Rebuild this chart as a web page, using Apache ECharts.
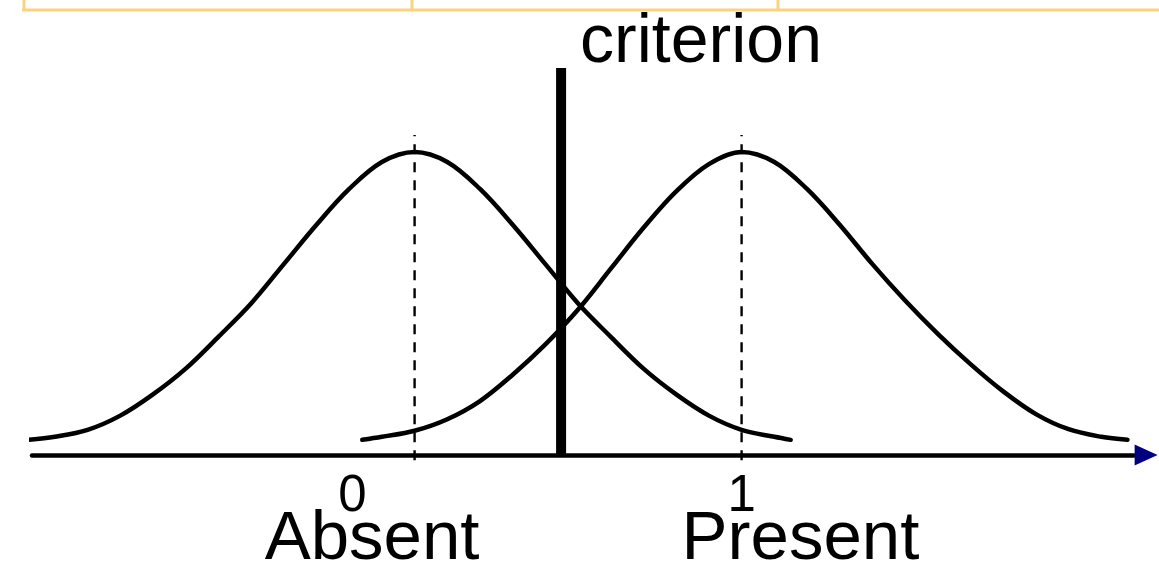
<!DOCTYPE html>
<html style="height: 100%">
<head>
    <meta charset="utf-8">
    <style>
        html, body {
            height: 100%;
            margin: 0;
            padding: 0;
            overflow: hidden;
            background: #fff;
        }
        #container {
            width: 1159px;
            height: 566px;
        }
    </style>
</head>
<body>
    <div id="container"></div>

    <script src="https://cdn.jsdelivr.net/npm/echarts@6/dist/echarts.min.js"></script>
    <script>
        // noise ("Absent") distribution
        var absentX = [-1.18, -1.1, -1.0, -0.9, -0.8, -0.7, -0.6, -0.5, -0.4, -0.3, -0.2, -0.1,
            0, 0.1, 0.2, 0.3, 0.4, 0.5, 0.6, 0.7, 0.8, 0.9, 1.0, 1.1, 1.15];
        var absentY = [0.05, 0.06, 0.083, 0.13, 0.2, 0.285, 0.39, 0.5, 0.63, 0.76, 0.878, 0.967,
            1.0, 0.967, 0.878, 0.76, 0.63, 0.5, 0.39, 0.285, 0.2, 0.13, 0.083, 0.06, 0.05];

        // signal ("Present") distribution
        var presentX = [-0.16, -0.1, 0, 0.1, 0.2, 0.3, 0.4, 0.5, 0.6, 0.7, 0.8, 0.9,
            1.0, 1.1, 1.2, 1.3, 1.4, 1.5, 1.6, 1.7, 1.8, 1.9, 2.0, 2.1, 2.18];
        var presentY = [0.05, 0.06, 0.08, 0.118, 0.178, 0.265, 0.365, 0.48, 0.615, 0.75, 0.87, 0.96,
            1.0, 0.967, 0.878, 0.76, 0.63, 0.51, 0.4, 0.3, 0.21, 0.135, 0.085, 0.06, 0.05];

        var means = [0, 1];
        var tickLabels = ['0', '1'];
        var stimulusLabels = ['Absent', 'Present'];
        var criterion = 0.448;
        var criterionText = 'criterion';

        function pairs(xs, ys) {
            return xs.map(function (x, i) { return [x, ys[i]]; });
        }

        var FONT = '"Liberation Sans", Arial, sans-serif';
        var dom = document.getElementById('container');
        var myChart = echarts.init(dom, null, { renderer: 'canvas' });

        var series = [];
        series.push({
            type: 'line', name: 'Absent', data: pairs(absentX, absentY),
            smooth: 0.35, showSymbol: false, silent: true, z: 3, clip: false,
            lineStyle: { color: '#000', width: 4.5, cap: 'round' }
        });
        series.push({
            type: 'line', name: 'Present', data: pairs(presentX, presentY),
            smooth: 0.35, showSymbol: false, silent: true, z: 3, clip: false,
            lineStyle: { color: '#000', width: 4.5, cap: 'round' }
        });
        means.forEach(function (m) {
            series.push({
                type: 'line', data: [[m, -0.017], [m, 1.056]],
                showSymbol: false, silent: true, z: 2,
                lineStyle: { color: '#000', width: 2.4, type: [10, 8] }
            });
        });
        series.push({
            type: 'line', data: [[criterion, 0], [criterion, 1.277]],
            showSymbol: false, silent: true, z: 5,
            lineStyle: { color: '#000', width: 10, cap: 'butt' }
        });
        // axis arrow head
        series.push({
            type: 'scatter', data: [[2.237, 0]], clip: false, silent: true, z: 6,
            symbol: 'triangle', symbolRotate: -90, symbolSize: [21, 23],
            itemStyle: { color: '#000080', opacity: 1 }
        });
        // text annotations
        var textData = [];
        tickLabels.forEach(function (t, i) {
            textData.push({ value: [[-0.19, 1.0][i], -0.138], name: t, label: { fontSize: 51 } });
        });
        stimulusLabels.forEach(function (t, i) {
            textData.push({ value: [[-0.13, 1.18][i], -0.28], name: t, label: { fontSize: 69 } });
        });
        textData.push({ value: [0.876, 1.358], name: criterionText, label: { fontSize: 68 } });
        series.push({
            type: 'scatter', data: textData, clip: false, silent: true,
            symbolSize: 0, itemStyle: { opacity: 1 },
            label: {
                show: true, position: 'inside', color: '#000', opacity: 1,
                fontFamily: FONT, formatter: '{b}', textBorderWidth: 0
            }
        });

        var option = {
            animation: false,
            grid: { left: 32, right: 25, top: 30.8, bottom: 50.4 },
            xAxis: {
                type: 'value', min: -1.17, max: 2.2,
                axisLine: { onZero: true, lineStyle: { color: '#000', width: 4.5 } },
                axisTick: { show: false }, axisLabel: { show: false }, splitLine: { show: false }
            },
            yAxis: {
                type: 'value', min: -0.2, max: 1.4, show: false,
                splitLine: { show: false }
            },
            graphic: [
                { type: 'line', shape: { x1: 22, y1: 10, x2: 1159, y2: 10 }, style: { stroke: '#F7D47F', lineWidth: 3 } },
                { type: 'line', shape: { x1: 24, y1: 0, x2: 24, y2: 10 }, style: { stroke: '#F7D47F', lineWidth: 3 } },
                { type: 'line', shape: { x1: 412, y1: 0, x2: 412, y2: 10 }, style: { stroke: '#F7D47F', lineWidth: 3 } },
                { type: 'line', shape: { x1: 778, y1: 0, x2: 778, y2: 10 }, style: { stroke: '#F7D47F', lineWidth: 3 } }
            ],
            series: series
        };
        myChart.setOption(option);
    </script>
</body>
</html>
